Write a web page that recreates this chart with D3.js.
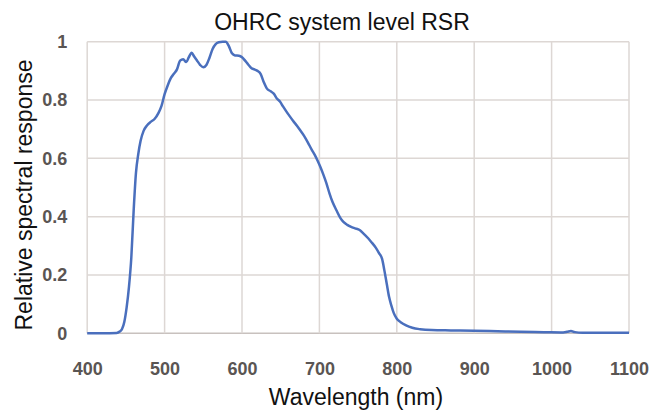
<!DOCTYPE html>
<html>
<head>
<meta charset="utf-8">
<script src="https://cdn.jsdelivr.net/npm/d3@7"></script>
<style>
  body { margin: 0; background: #fff; }
  svg { display: block; }
  .tick text { font-family: "Liberation Sans", Arial, sans-serif; font-weight: bold; fill: #5a5553; }
</style>
</head>
<body>
<div id="chart"></div>
<script>
// wavelength (nm)
var wavelength = [400, 420, 438, 442, 445, 448, 451, 454, 457, 460, 463, 466, 469, 473, 477, 482, 487, 492, 496, 500,
  504, 508, 512, 516, 520, 524, 528, 531, 535, 538, 542, 546, 550, 554, 558, 562, 566, 570, 575, 579,
  583, 587, 591, 596, 600, 604, 608, 612, 616, 620, 624, 628, 632, 637, 641, 645, 649, 653, 657, 662,
  667, 671, 675, 680, 685, 690, 694, 698, 701, 705, 709, 713, 717, 722, 727, 731, 736, 741, 746, 752,
  757, 763, 768, 773, 777, 781, 784, 787, 790, 793, 796, 800, 805, 812, 820, 830, 845, 870, 900, 930,
  960, 990, 1015, 1020, 1025, 1030, 1040, 1070, 1100];
// relative spectral response
var response = [0, 0, 0.001, 0.006, 0.015, 0.04, 0.09, 0.16, 0.26, 0.42, 0.55, 0.615, 0.66, 0.695, 0.712, 0.725, 0.735, 0.755, 0.78, 0.82,
  0.85, 0.875, 0.89, 0.905, 0.935, 0.94, 0.93, 0.945, 0.962, 0.95, 0.935, 0.92, 0.912, 0.92, 0.945, 0.975, 0.992, 0.998, 1.0, 1.0,
  0.985, 0.96, 0.953, 0.952, 0.947, 0.935, 0.922, 0.91, 0.905, 0.9, 0.89, 0.862, 0.84, 0.83, 0.822, 0.805, 0.795, 0.778, 0.762, 0.743,
  0.725, 0.712, 0.697, 0.678, 0.655, 0.63, 0.612, 0.59, 0.572, 0.545, 0.515, 0.48, 0.45, 0.422, 0.396, 0.382, 0.372, 0.365, 0.36, 0.354,
  0.342, 0.326, 0.31, 0.293, 0.275, 0.255, 0.215, 0.17, 0.125, 0.095, 0.07, 0.05, 0.038, 0.027, 0.019, 0.014, 0.011, 0.01, 0.009, 0.007,
  0.005, 0.004, 0.003, 0.005, 0.008, 0.004, 0.002, 0.002, 0.002];

var xTicks = [400, 500, 600, 700, 800, 900, 1000, 1100];
var yTicks = [0, 0.2, 0.4, 0.6, 0.8, 1];

var W = 666, H = 418;
var margin = {top: 41.7, right: 37, bottom: 84.7, left: 87.2};
var w = W - margin.left - margin.right;
var h = H - margin.top - margin.bottom;

var svg = d3.select("#chart").append("svg")
  .attr("width", W)
  .attr("height", H);

var g = svg.append("g")
  .attr("transform", "translate(" + margin.left + "," + margin.top + ")");

var x = d3.scaleLinear().domain([400, 1100]).range([0, w]);
var y = d3.scaleLinear().domain([0, 1]).range([h, 0]);

// grid
g.append("g")
  .selectAll("line.hg")
  .data(yTicks)
  .enter().append("line")
  .attr("x1", 0).attr("x2", w)
  .attr("y1", function(d) { return y(d); })
  .attr("y2", function(d) { return y(d); })
  .style("stroke", function(d) { return d === 0 ? "#c8c1be" : "#ddd7d4"; })
  .style("stroke-width", 1.5);

g.append("g")
  .selectAll("line.vg")
  .data(xTicks)
  .enter().append("line")
  .attr("y1", 0).attr("y2", h)
  .attr("x1", function(d) { return x(d); })
  .attr("x2", function(d) { return x(d); })
  .style("stroke", "#ddd7d4")
  .style("stroke-width", 1.5);

// axes (labels only)
var xAxis = g.append("g")
  .attr("transform", "translate(0," + h + ")")
  .call(d3.axisBottom(x).tickValues(xTicks).tickSize(0).tickPadding(29).tickFormat(d3.format("d")));
xAxis.select(".domain").remove();
xAxis.selectAll("text").style("font-size", "18px");

var yAxis = g.append("g")
  .call(d3.axisLeft(y).tickValues(yTicks).tickSize(0).tickPadding(20).tickFormat(function(d) { return d3.format("")(d); }));
yAxis.select(".domain").remove();
yAxis.selectAll("text").style("font-size", "18px");

// curve
var data = wavelength.map(function(d, i) { return {wl: d, v: response[i]}; });
var line = d3.line()
  .x(function(d) { return x(d.wl); })
  .y(function(d) { return y(d.v); })
  .curve(d3.curveMonotoneX);

g.append("path")
  .datum(data)
  .attr("d", line)
  .style("fill", "none")
  .style("stroke", "#4a6fbd")
  .style("stroke-width", 2.5)
  .style("stroke-linejoin", "round");

// titles
svg.append("text")
  .attr("x", 342)
  .attr("y", 30)
  .attr("text-anchor", "middle")
  .style("font-family", "Liberation Sans, Arial, sans-serif")
  .style("font-size", "23px")
  .style("fill", "#111")
  .text("OHRC system level RSR");

svg.append("text")
  .attr("x", 356)
  .attr("y", 405)
  .attr("text-anchor", "middle")
  .style("font-family", "Liberation Sans, Arial, sans-serif")
  .style("font-size", "23px")
  .style("fill", "#111")
  .text("Wavelength (nm)");

svg.append("text")
  .attr("transform", "translate(32,195) rotate(-90)")
  .attr("text-anchor", "middle")
  .style("font-family", "Liberation Sans, Arial, sans-serif")
  .style("font-size", "23px")
  .style("fill", "#111")
  .text("Relative spectral response");
</script>
</body>
</html>
